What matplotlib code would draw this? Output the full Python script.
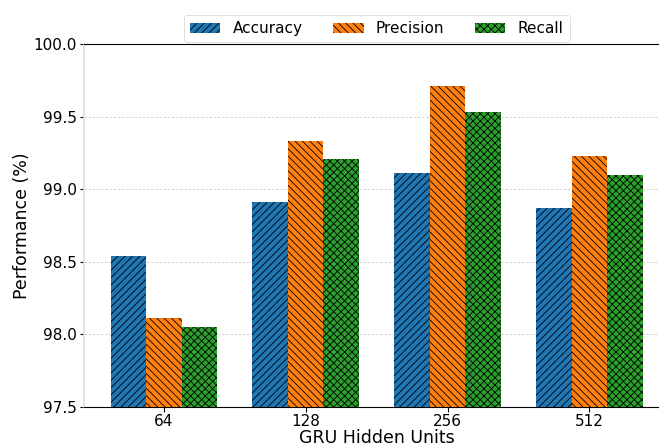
import matplotlib
matplotlib.use("Agg")
import matplotlib.pyplot as plt
import numpy as np

categories = ["64", "128", "256", "512"]
accuracy = [98.54, 98.91, 99.11, 98.87]
precision = [98.11, 99.33, 99.71, 99.23]
recall = [98.05, 99.21, 99.53, 99.10]
series_names = ["Accuracy", "Precision", "Recall"]

S = 1.5
DPI = 100 / S
plt.rcParams["hatch.linewidth"] = 0.9
plt.rcParams["xtick.major.size"] = 3.5 * S
plt.rcParams["ytick.major.size"] = 3.0 * S
plt.rcParams["xtick.major.width"] = 0.8 * S
plt.rcParams["ytick.major.width"] = 0.8 * S
plt.rcParams["axes.linewidth"] = 0.8 * S

fig = plt.figure(figsize=(659 / DPI, 446 / DPI), dpi=DPI)
ax = fig.add_axes([0.1275, 0.0874, 0.888, 0.8139])

x = np.arange(len(categories))
w = 0.25
colors = ["#1f77b4", "#ff7f0e", "#2ca02c"]
hatches = ["///", "\\\\\\", "xxx"]
for i, (vals, name) in enumerate(zip([accuracy, precision, recall], series_names)):
    ax.bar(x + (i - 1) * w, vals, w, label=name, color=colors[i],
           hatch=hatches[i], edgecolor="black", linewidth=0, zorder=3)

ax.set_ylim(97.5, 100.0)
ax.set_xticks(x)
ax.set_xticklabels(categories)
ax.tick_params(axis="both", labelsize=11 * S)
ax.tick_params(axis="x", pad=1.3 * S)
ax.tick_params(axis="y", pad=2.0 * S)
ax.set_xlabel("GRU Hidden Units", fontsize=12.5 * S, labelpad=0)
ax.set_ylabel("Performance (%)", fontsize=12.5 * S, labelpad=2 * S)
ax.yaxis.grid(True, linestyle=(0, (3, 2)), color="#cccccc", linewidth=0.6 * S, zorder=0)
ax.set_axisbelow(True)
ax.spines["right"].set_visible(False)
ax.spines["left"].set_color("#dddddd")
ax.spines["left"].set_linewidth(1.2 * S)

ax.legend(loc="lower center", bbox_to_anchor=(0.5, 1.0), ncol=3,
          fontsize=11 * S, borderaxespad=0.1, framealpha=1, edgecolor="#dddddd")

fig.savefig("out.png", dpi=DPI)
